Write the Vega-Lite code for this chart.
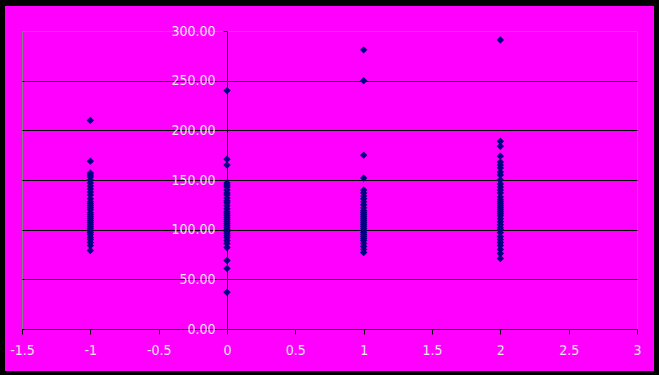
{
  "$schema": "https://vega.github.io/schema/vega-lite/v6.json",
  "width": 615,
  "height": 298,
  "autosize": "none",
  "padding": {"left": 22, "top": 31, "right": 22, "bottom": 46},
  "background": "#FF00FF",
  "config": {
    "view": {"stroke": "#808080", "strokeWidth": 1},
    "axis": {"labelFont": "Liberation Sans Narrow, DejaVu Sans Condensed, sans-serif", "labelFontSize": 14, "labelColor": "#E8E8E8"}
  },
  "data": {"values": [
    {"g": -1, "v": 210}, {"g": -1, "v": 169}, {"g": -1, "v": 157}, {"g": -1, "v": 155}, {"g": -1, "v": 153}, {"g": -1, "v": 150}, {"g": -1, "v": 147}, {"g": -1, "v": 144}, {"g": -1, "v": 141}, {"g": -1, "v": 138}, {"g": -1, "v": 135}, {"g": -1, "v": 131}, {"g": -1, "v": 128}, {"g": -1, "v": 126}, {"g": -1, "v": 124}, {"g": -1, "v": 122}, {"g": -1, "v": 120}, {"g": -1, "v": 117}, {"g": -1, "v": 115}, {"g": -1, "v": 113}, {"g": -1, "v": 111}, {"g": -1, "v": 109}, {"g": -1, "v": 107}, {"g": -1, "v": 105}, {"g": -1, "v": 103}, {"g": -1, "v": 101}, {"g": -1, "v": 99}, {"g": -1, "v": 97}, {"g": -1, "v": 95}, {"g": -1, "v": 92}, {"g": -1, "v": 90}, {"g": -1, "v": 87}, {"g": -1, "v": 84}, {"g": -1, "v": 79},
    {"g": 0, "v": 240}, {"g": 0, "v": 171}, {"g": 0, "v": 165}, {"g": 0, "v": 147}, {"g": 0, "v": 145}, {"g": 0, "v": 143}, {"g": 0, "v": 140}, {"g": 0, "v": 137}, {"g": 0, "v": 135}, {"g": 0, "v": 132}, {"g": 0, "v": 129}, {"g": 0, "v": 127}, {"g": 0, "v": 124}, {"g": 0, "v": 121}, {"g": 0, "v": 118}, {"g": 0, "v": 116}, {"g": 0, "v": 114}, {"g": 0, "v": 112}, {"g": 0, "v": 110}, {"g": 0, "v": 108}, {"g": 0, "v": 106}, {"g": 0, "v": 104}, {"g": 0, "v": 102}, {"g": 0, "v": 100}, {"g": 0, "v": 98}, {"g": 0, "v": 96}, {"g": 0, "v": 94}, {"g": 0, "v": 92}, {"g": 0, "v": 89}, {"g": 0, "v": 86}, {"g": 0, "v": 82}, {"g": 0, "v": 69}, {"g": 0, "v": 61}, {"g": 0, "v": 37},
    {"g": 1, "v": 281}, {"g": 1, "v": 250}, {"g": 1, "v": 175}, {"g": 1, "v": 152}, {"g": 1, "v": 140}, {"g": 1, "v": 137}, {"g": 1, "v": 134}, {"g": 1, "v": 131}, {"g": 1, "v": 128}, {"g": 1, "v": 125}, {"g": 1, "v": 122}, {"g": 1, "v": 119}, {"g": 1, "v": 117}, {"g": 1, "v": 115}, {"g": 1, "v": 113}, {"g": 1, "v": 111}, {"g": 1, "v": 109}, {"g": 1, "v": 107}, {"g": 1, "v": 105}, {"g": 1, "v": 103}, {"g": 1, "v": 101}, {"g": 1, "v": 99}, {"g": 1, "v": 97}, {"g": 1, "v": 95}, {"g": 1, "v": 93}, {"g": 1, "v": 91}, {"g": 1, "v": 89}, {"g": 1, "v": 86}, {"g": 1, "v": 83}, {"g": 1, "v": 80}, {"g": 1, "v": 77},
    {"g": 2, "v": 291}, {"g": 2, "v": 189}, {"g": 2, "v": 184}, {"g": 2, "v": 174}, {"g": 2, "v": 168}, {"g": 2, "v": 165}, {"g": 2, "v": 162}, {"g": 2, "v": 158}, {"g": 2, "v": 155}, {"g": 2, "v": 150}, {"g": 2, "v": 146}, {"g": 2, "v": 143}, {"g": 2, "v": 140}, {"g": 2, "v": 137}, {"g": 2, "v": 133}, {"g": 2, "v": 130}, {"g": 2, "v": 128}, {"g": 2, "v": 126}, {"g": 2, "v": 124}, {"g": 2, "v": 122}, {"g": 2, "v": 120}, {"g": 2, "v": 118}, {"g": 2, "v": 116}, {"g": 2, "v": 114}, {"g": 2, "v": 111}, {"g": 2, "v": 108}, {"g": 2, "v": 105}, {"g": 2, "v": 102}, {"g": 2, "v": 100}, {"g": 2, "v": 97}, {"g": 2, "v": 93}, {"g": 2, "v": 90}, {"g": 2, "v": 87}, {"g": 2, "v": 84}, {"g": 2, "v": 80}, {"g": 2, "v": 76}, {"g": 2, "v": 71}
  ]},
  "layer": [
    {
      "mark": {"type": "point", "shape": "diamond", "filled": true, "size": 55, "color": "#000080", "opacity": 1},
      "encoding": {
        "x": {"field": "g", "type": "quantitative", "scale": {"domain": [-1.5, 3], "nice": false, "zero": false},
          "axis": {"title": null, "values": [-1.5, -1, -0.5, 0, 0.5, 1, 1.5, 2, 2.5, 3], "labelExpr": "'' + datum.value", "grid": false, "domainColor": "#000000", "tickColor": "#000000", "tickSize": 5, "labelPadding": 9, "labelFlush": false, "labelOverlap": false}},
        "y": {"field": "v", "type": "quantitative", "scale": {"domain": [0, 300], "nice": false},
          "axis": {"title": null, "values": [0, 50, 100, 150, 200, 250, 300], "format": ".2f", "grid": true, "gridColor": {"condition": {"test": "datum.value === 300", "value": "#808080"}, "value": "#000000"}, "gridOpacity": 1, "domainColor": "#000000", "tickColor": "#000000", "tickSize": 4, "labelPadding": 8, "offset": -205, "labelFlush": false, "labelOverlap": false}}
      }
    },
    {
      "mark": {"type": "rect", "fill": null, "stroke": "#000000", "strokeWidth": 10, "clip": false},
      "encoding": {
        "x": {"datum": -1.661, "type": "quantitative"},
        "x2": {"datum": 3.168},
        "y": {"datum": -47.3, "type": "quantitative"},
        "y2": {"datum": 330.2}
      }
    }
  ]
}
